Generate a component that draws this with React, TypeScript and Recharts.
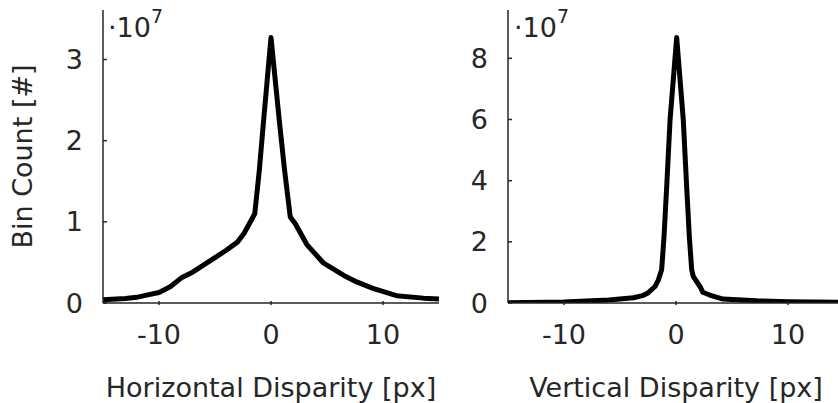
import { Line, LineChart, XAxis, YAxis } from 'recharts';

// bin counts, in units of 1e7
const horizX = [-15, -13, -12, -11, -10, -9, -8, -7, -6, -5, -4, -3, -2.4, -1.45, -1.04, -0.66, 0, 0.74, 1.21, 1.72, 2.2, 3.2, 4.7, 6.5, 7.65, 9.1, 11.2, 13.6, 15];
const horizY = [0.04, 0.055, 0.07, 0.1, 0.13, 0.2, 0.31, 0.38, 0.47, 0.56, 0.65, 0.75, 0.86, 1.1, 1.64, 2.25, 3.27, 2.25, 1.64, 1.06, 0.97, 0.72, 0.49, 0.34, 0.26, 0.18, 0.09, 0.06, 0.05];

const vertX = [-15, -10, -6, -3.8, -3, -2.5, -1.87, -1.58, -1.28, -1.07, -0.83, -0.53, 0.06, 0.65, 0.95, 1.19, 1.4, 1.55, 2.14, 2.4, 3, 4.2, 7.2, 10, 15];
const vertY = [0.01, 0.03, 0.1, 0.17, 0.24, 0.33, 0.54, 0.75, 1.09, 2.17, 3.81, 5.99, 8.68, 5.99, 3.81, 2.17, 1.09, 0.86, 0.54, 0.35, 0.26, 0.13, 0.07, 0.04, 0.02];

const xTicks = [-10, 0, 10];
const horizYTicks = [0, 1, 2, 3];
const vertYTicks = [0, 2, 4, 6, 8];

const TXT = '#262626';
const FONT = 'DejaVu Sans';
const FS = 27;
const MARGIN = 20;

const horizData = horizX.map((x, i) => ({ x, y: horizY[i] }));
const vertData = vertX.map((x, i) => ({ x, y: vertY[i] }));

function YTick(props: any) {
  const { x, y, payload } = props;
  return (
    <g>
      <line x1={x + MARGIN} x2={x + MARGIN + 4} y1={y} y2={y} stroke={TXT} strokeWidth={1.5} />
      <text x={x} y={y} dy="0.355em" textAnchor="end" fill={TXT} fontSize={FS} fontFamily={FONT}>
        {payload.value}
      </text>
    </g>
  );
}

function XTick(props: any) {
  const { x, y, payload } = props;
  return (
    <g>
      <line x1={x} x2={x} y1={y - MARGIN} y2={y - MARGIN - 4} stroke={TXT} strokeWidth={1.5} />
      <text x={x} y={y} dy="0.71em" textAnchor="middle" fill={TXT} fontSize={FS} fontFamily={FONT}>
        {payload.value}
      </text>
    </g>
  );
}

function Panel({ data, yMax, yTicks, yWidth, width, left, label }: any) {
  return (
    <div style={{ position: 'absolute', left, top: 0 }}>
      <LineChart width={width} height={403} margin={{ top: 10, right: 11, bottom: 0, left: 0 }}>
        <XAxis
          type="number"
          dataKey="x"
          domain={[-15, 15]}
          ticks={xTicks}
          allowDataOverflow
          height={100}
          tickSize={0}
          tickMargin={MARGIN + 2}
          tick={<XTick />}
          axisLine={{ stroke: TXT, strokeWidth: 1.5 }}
          label={{ value: label, position: 'insideBottom', offset: 6, fill: TXT, fontSize: FS, fontFamily: FONT }}
        />
        <YAxis
          type="number"
          dataKey="y"
          domain={[0, yMax]}
          ticks={yTicks}
          allowDataOverflow
          width={yWidth}
          tickSize={0}
          tickMargin={MARGIN}
          tick={<YTick />}
          axisLine={{ stroke: TXT, strokeWidth: 1.5 }}
        />
        <Line
          data={data}
          dataKey="y"
          type="linear"
          stroke="#000"
          strokeWidth={5}
          strokeLinejoin="round"
          dot={false}
          isAnimationActive={false}
        />
      </LineChart>
    </div>
  );
}

export default function App() {
  return (
    <div
      style={{
        position: 'absolute',
        left: 0,
        top: 0,
        width: 838,
        height: 403,
        overflow: 'hidden',
        background: '#fff',
        fontFamily: FONT,
      }}
    >
      <Panel data={horizData} yMax={3.61} yTicks={horizYTicks} yWidth={103} width={450} left={0} label="Horizontal Disparity [px]" />
      <Panel data={vertData} yMax={9.58} yTicks={vertYTicks} yWidth={78} width={425} left={430} label="Vertical Disparity [px]" />
      <svg width={838} height={403} style={{ position: 'absolute', left: 0, top: 0, pointerEvents: 'none' }}>
        <text x={22} y={156.5} dy="0.355em" transform="rotate(-90 22 156.5)" textAnchor="middle" fill={TXT} fontSize={FS} fontFamily={FONT}>
          Bin Count [#]
        </text>
        <text x={108} y={37} fill={TXT} fontSize={FS} fontFamily={FONT}>
          ·10<tspan dy={-14} fontSize={19}>7</tspan>
        </text>
        <text x={514} y={37} fill={TXT} fontSize={FS} fontFamily={FONT}>
          ·10<tspan dy={-14} fontSize={19}>7</tspan>
        </text>
      </svg>
    </div>
  );
}
